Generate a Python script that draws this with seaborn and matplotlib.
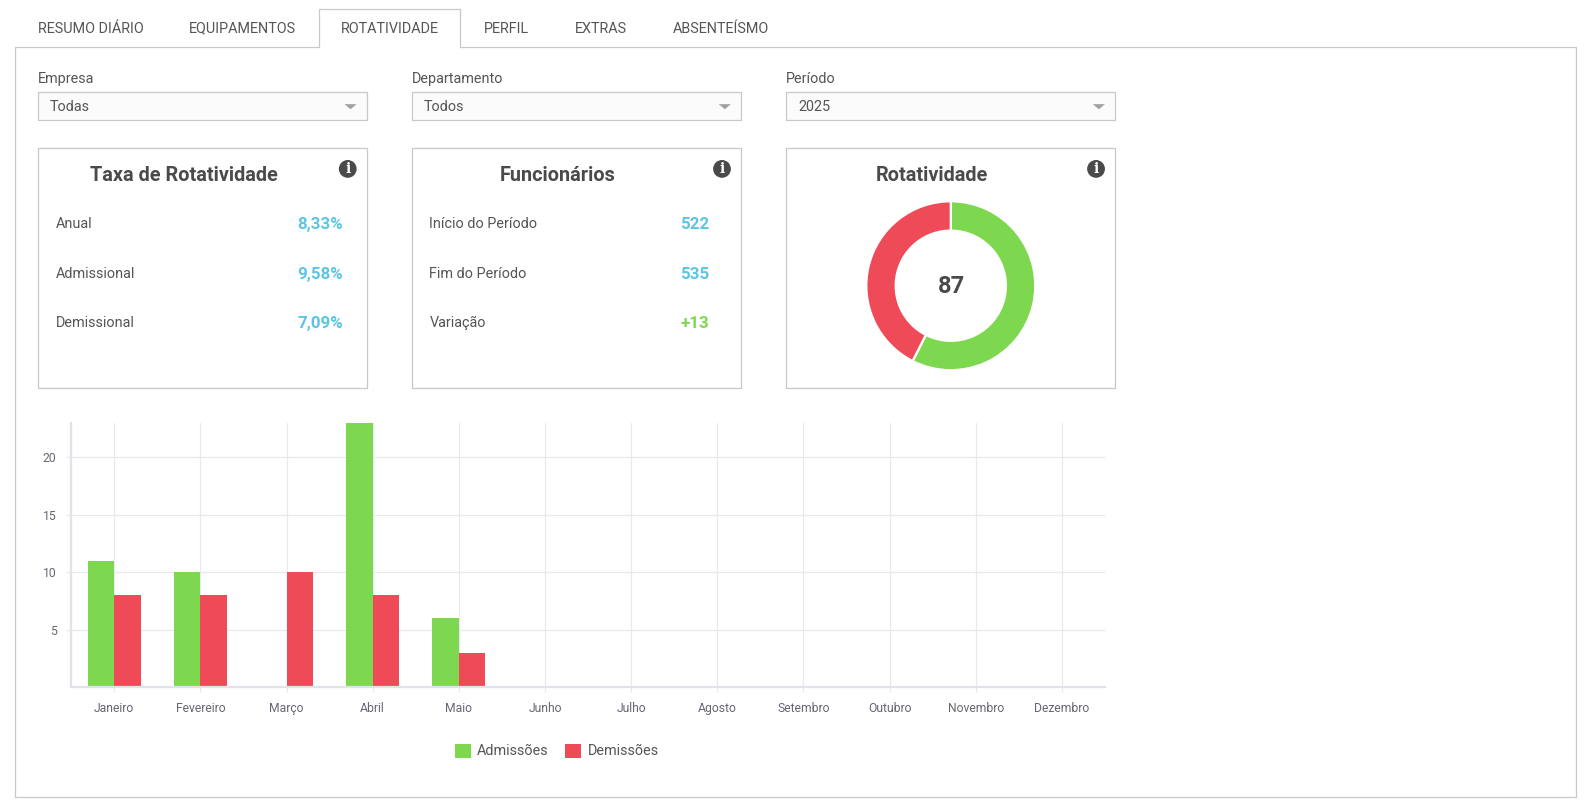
import matplotlib
matplotlib.use("Agg")
import matplotlib.pyplot as plt
import pandas as pd
import seaborn as sns
from matplotlib.patches import Rectangle, Circle, Polygon

W, H = 1586, 807
LW, LH = 1568, 797.9  # layout grid used for placing the page furniture
months = ["Janeiro", "Fevereiro", "Março", "Abril", "Maio", "Junho", "Julho",
          "Agosto", "Setembro", "Outubro", "Novembro", "Dezembro"]
admissoes = [11, 10, 0, 23, 6, 0, 0, 0, 0, 0, 0, 0]
demissoes = [8, 8, 10, 8, 3, 0, 0, 0, 0, 0, 0, 0]
donut_values = [50, 37]
donut_total = "87"
tabs = ["RESUMO DIÁRIO", "EQUIPAMENTOS", "ROTATIVIDADE", "PERFIL", "EXTRAS", "ABSENTEÍSMO"]
filters = [("Empresa", "Todas"), ("Departamento", "Todos"), ("Período", "2025")]
taxa_rows = [("Anual", "8,33%"), ("Admissional", "9,58%"), ("Demissional", "7,09%")]
func_rows = [("Início do Período", "522"), ("Fim do Período", "535"), ("Variação", "+13")]

GREEN, RED = "#7ED84F", "#EF4A58"
BLUE, DARK, TXT, BORDER = "#5BC6E4", "#4A4A4A", "#555555", "#C8C8C8"
GRID = "#E8E8EE"
FS = 10.4

sns.set_theme(style="white")
plt.rcParams["font.family"] = ["Roboto", "DejaVu Sans"]

fig = plt.figure(figsize=(W / 100, H / 100), dpi=100, facecolor="white")


def axes_px(x0, y0, x1, y1, **kw):
    return fig.add_axes([x0 / LW, 1 - y1 / LH, (x1 - x0) / LW, (y1 - y0) / LH], **kw)


bg = axes_px(0, 0, LW, LH)
bg.set_xlim(0, LW)
bg.set_ylim(LH, 0)
bg.axis("off")


def box(x0, y0, x1, y1, fc="white", ec=BORDER):
    bg.add_patch(Rectangle((x0, y0), x1 - x0, y1 - y0, fc=fc, ec=ec, lw=0.9))


def label_text(x, y, s, ha="left", fs=FS, color=TXT, weight="normal"):
    bg.text(x, y, s, ha=ha, va="baseline", fontsize=fs, color=color, fontweight=weight)


box(15, 46, 1558, 788)
bg.add_patch(Rectangle((316, 44), 139, 4, fc="white", ec="none", zorder=3))
bg.plot([315.2, 315.2, 455.2, 455.2], [46, 9, 9, 46], color=BORDER, lw=0.9, zorder=4)
for label, cx, ty in zip(tabs, [90, 240, 385, 501, 594, 713], [33, 32, 33, 33, 33, 33]):
    label_text(cx, ty, label, ha="center")

for (label, value), x0 in zip(filters, [37.6, 407.6, 777.4]):
    label_text(x0, 82, label)
    box(x0, 90.6, x0 + 325.4, 119, fc="#FBFBFB")
    label_text(x0 + 11.5, 110, value)
    tx = x0 + 309
    bg.add_patch(Polygon([(tx - 6, 103), (tx + 6, 103), (tx, 108)], fc="#A0A0A0", ec="none"))

for x0, title in zip([37.6, 407.6, 777.4], ["Taxa de Rotatividade", "Funcionários", "Rotatividade"]):
    box(x0, 146.6, x0 + 325.4, 384)
    label_text(x0 + 143.9, 179, title, ha="center", fs=14.3, color=DARK, weight="bold")
    bg.add_patch(Circle((x0 + 306.2, 167), 8.8, fc=DARK, ec="none"))
    bg.text(x0 + 306.2, 167, "i", ha="center", va="center", fontsize=10, fontweight="bold",
            family="DejaVu Serif", color="white")

for ys, rows, lx, rx in [((225, 275, 323), taxa_rows, 55, 339.6), ((225, 275, 323), func_rows, 424.6, 700.8)]:
    for y, (label, value) in zip(ys, rows):
        label_text(lx, y, label)
        col = GREEN if value.startswith("+") else BLUE
        label_text(rx, y + 1, value, ha="right", fs=12.2, color=col, weight="bold")

# donut
ax_d = axes_px(940 - 83.5, 282.5 - 83.5, 940 + 83.5, 282.5 + 83.5)
ax_d.pie(donut_values, colors=[GREEN, RED], startangle=90, counterclock=False, radius=1,
         wedgeprops=dict(width=29 / 83.5, edgecolor="white", linewidth=1.6))
ax_d.set_xlim(-1, 1)
ax_d.set_ylim(-1, 1)
ax_d.text(0.01, -0.015, donut_total, ha="center", va="center", fontsize=17, fontweight="bold", color=DARK)

# bar chart
df = pd.DataFrame({
    "Mês": months * 2,
    "Quantidade": admissoes + demissoes,
    "Série": ["Admissões"] * len(months) + ["Demissões"] * len(months),
})
ax = axes_px(70.3, 418, 1092.5, 679.5)
ax.patch.set_alpha(0)
sns.barplot(data=df, x="Mês", y="Quantidade", hue="Série", order=months,
            palette={"Admissões": GREEN, "Demissões": RED}, width=0.615, gap=0,
            saturation=1, linewidth=0, ax=ax, legend=True)
ax.set_xlim(-0.5, 11.5)
ax.set_ylim(0, 23)
ax.set_yticks([5, 10, 15, 20])
ax.set_xlabel("")
ax.set_ylabel("")
ax.set_axisbelow(True)
ax.grid(True, color=GRID, lw=0.9)
for s in ("top", "right"):
    ax.spines[s].set_visible(False)
for s in ("left", "bottom"):
    ax.spines[s].set_color("#E2E2EA")
    ax.spines[s].set_linewidth(1.6)
ax.tick_params(axis="both", length=3.5, width=0.9, color=GRID, labelcolor="#666672", labelsize=8.7)
ax.tick_params(axis="x", bottom=True, pad=6.8)
ax.tick_params(axis="y", left=True, pad=7)
handles, labels = ax.get_legend_handles_labels()
ax.get_legend().remove()
fig.legend(handles, labels, loc="center", bbox_to_anchor=(550.5 / LW, 1 - 742.6 / LH), ncol=2, frameon=False,
           fontsize=FS, labelcolor=TXT, handlelength=1.1, handleheight=1.1, handletextpad=0.45,
           columnspacing=1.15, borderpad=0)

fig.savefig("out.png", dpi=100, facecolor="white")
